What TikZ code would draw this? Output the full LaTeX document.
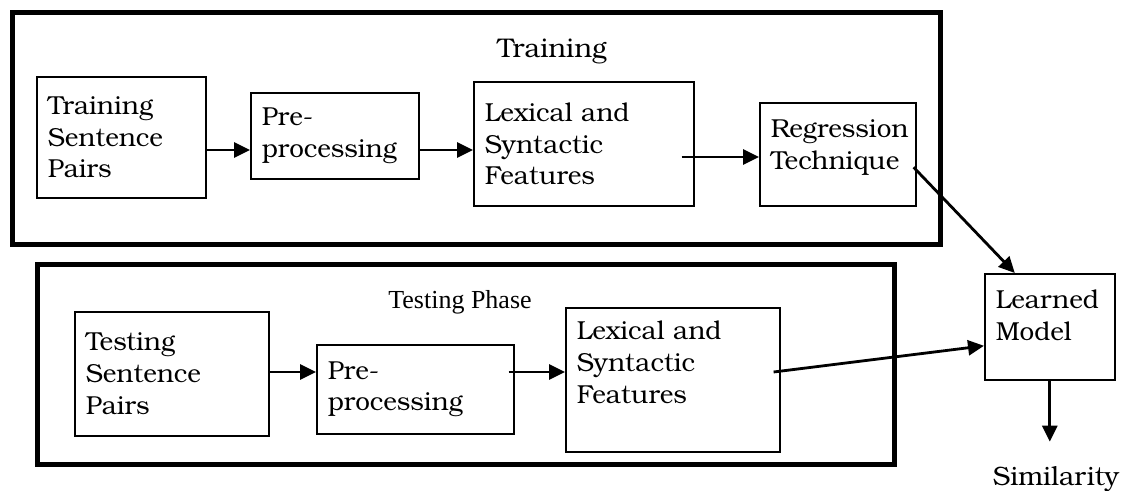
\documentclass[tikz,border=0pt]{standalone}
\usepackage{fontspec}
\setmainfont{TeX Gyre Bonum}
\newfontfamily\phasefont{Liberation Serif}
\usetikzlibrary{arrows.meta,calc}
\newcommand{\droom}[1]{\rule[-#1]{0pt}{#1}}

\begin{document}
\begin{tikzpicture}[
    x=1pt, y=-1pt,
    procbox/.style={draw, line width=1.6pt, anchor=north west, align=left, inner xsep=11pt, inner ysep=0pt, font=\fontsize{26}{31.7}\selectfont},
    phaseframe/.style={line width=5pt},
    flow/.style={-{Triangle[length=16pt,width=15pt]}, line width=2.8pt}
]
\useasboundingbox (0,0) rectangle (1121,490);

% training phase
\draw[phaseframe] (12,12.5) rectangle (940,244.5);
\node[anchor=base, font=\fontsize{27}{30}\selectfont] (trainlabel) at (552,57) {Training};

\node[procbox, minimum width=169pt, minimum height=121pt, text width=147pt] (trainpairs) at (36,76) {Training\\Sentence\\Pairs};
\node[procbox, minimum width=168pt, minimum height=86pt, text width=146pt] (trainpre) at (250,92) {Pre-\\processing};
\node[procbox, minimum width=220pt, minimum height=124pt, text width=198pt] (trainfeat) at (473,81) {Lexical and\\Syntactic\\Features};
\node[procbox, minimum width=156pt, minimum height=103pt, text width=134pt] (trainreg) at (759,102) {Regression\\Technique\droom{19pt}};

% testing phase
\draw[phaseframe] (37.5,264.5) rectangle (894.5,464.5);
\node[anchor=base, font=\phasefont\fontsize{26}{30}\selectfont] (testlabel) at (460,308) {Testing Phase};

\node[procbox, minimum width=194pt, minimum height=124pt, text width=172pt] (testpairs) at (74,311) {Testing\\Sentence\\Pairs};
\node[procbox, minimum width=197pt, minimum height=89pt, text width=175pt] (testpre) at (316,344) {Pre-\\processing};
\node[procbox, minimum width=214pt, minimum height=144pt, text width=192pt] (testfeat) at (565,307) {Lexical and\\Syntactic\\Features\droom{35pt}};

% output
\node[procbox, minimum width=130pt, minimum height=106pt, text width=108pt] (model) at (984,273) {Learned\\Model\droom{23pt}};
\node[anchor=base, font=\fontsize{26.5}{30}\selectfont] (similarity) at (1056,485) {Similarity};

\coordinate (trainrow) at (0,150);
\coordinate (regrow) at (0,157);
\coordinate (testrow) at (0,372);

\draw[flow] (trainpairs.east |- trainrow) -- (trainpre.west |- trainrow);
\draw[flow] (trainpre.east |- trainrow) -- (trainfeat.west |- trainrow);
\draw[flow] ($(trainfeat.east |- regrow)+(-13,0)$) -- (trainreg.west |- regrow);
\draw[flow] ($(trainreg.east)+(-3,13)$) -- ($(model.north)+(-35,0)$);

\draw[flow] (testpairs.east |- testrow) -- (testpre.west |- testrow);
\draw[flow] ($(testpre.east |- testrow)+(-6,0)$) -- (testfeat.west |- testrow);
\draw[flow] ($(testfeat.east |- testrow)+(-7,0)$) -- ($(model.west)+(0,19)$);
\draw[flow] (model.south) -- ++(0,61);
\end{tikzpicture}
\end{document}
